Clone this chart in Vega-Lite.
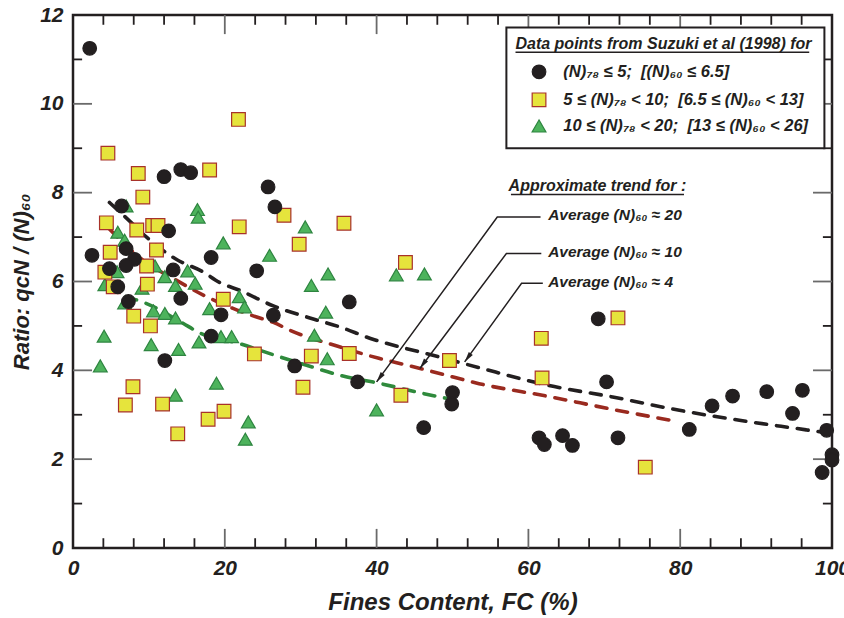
{
  "$schema": "https://vega.github.io/schema/vega-lite/v6.json",
  "width": 759,
  "height": 533,
  "autosize": {"type": "none"},
  "padding": {"left": 73, "top": 15, "right": 12, "bottom": 70},
  "background": "white",
  "config": {
    "font": "Liberation Sans, Arial, sans-serif",
    "view": {"stroke": "#231f20", "strokeWidth": 2.5},
    "axis": {
      "domain": false,
      "grid": false,
      "ticks": false,
      "labelFont": "Liberation Sans, Arial, sans-serif",
      "labelFontWeight": "bold",
      "labelFontStyle": "italic",
      "labelFontSize": 21,
      "labelColor": "#231f20",
      "labelOverlap": false,
      "labelFlush": false,
      "titleFont": "Liberation Sans, Arial, sans-serif",
      "titleFontWeight": "bold",
      "titleFontStyle": "italic",
      "titleFontSize": 24,
      "titleColor": "#231f20"
    }
  },
  "datasets": {
    "points": [
      {"group": "10 ≤ N78 < 20", "fc": 7.0, "ratio": 7.70},
      {"group": "10 ≤ N78 < 20", "fc": 16.4, "ratio": 7.62},
      {"group": "10 ≤ N78 < 20", "fc": 16.5, "ratio": 7.45},
      {"group": "10 ≤ N78 < 20", "fc": 5.9, "ratio": 7.11},
      {"group": "10 ≤ N78 < 20", "fc": 6.8, "ratio": 6.93},
      {"group": "10 ≤ N78 < 20", "fc": 19.8, "ratio": 6.87},
      {"group": "10 ≤ N78 < 20", "fc": 15.1, "ratio": 6.24},
      {"group": "10 ≤ N78 < 20", "fc": 5.8, "ratio": 6.22},
      {"group": "10 ≤ N78 < 20", "fc": 10.8, "ratio": 6.35},
      {"group": "10 ≤ N78 < 20", "fc": 4.2, "ratio": 5.93},
      {"group": "10 ≤ N78 < 20", "fc": 12.1, "ratio": 6.11},
      {"group": "10 ≤ N78 < 20", "fc": 13.5, "ratio": 5.91},
      {"group": "10 ≤ N78 < 20", "fc": 16.1, "ratio": 5.96},
      {"group": "10 ≤ N78 < 20", "fc": 21.9, "ratio": 5.66},
      {"group": "10 ≤ N78 < 20", "fc": 9.1, "ratio": 5.85},
      {"group": "10 ≤ N78 < 20", "fc": 6.8, "ratio": 5.52},
      {"group": "10 ≤ N78 < 20", "fc": 10.6, "ratio": 5.34},
      {"group": "10 ≤ N78 < 20", "fc": 12.1, "ratio": 5.28},
      {"group": "10 ≤ N78 < 20", "fc": 13.5, "ratio": 5.18},
      {"group": "10 ≤ N78 < 20", "fc": 18.0, "ratio": 5.39},
      {"group": "10 ≤ N78 < 20", "fc": 22.6, "ratio": 5.43},
      {"group": "10 ≤ N78 < 20", "fc": 4.1, "ratio": 4.77},
      {"group": "10 ≤ N78 < 20", "fc": 10.3, "ratio": 4.58},
      {"group": "10 ≤ N78 < 20", "fc": 13.9, "ratio": 4.47},
      {"group": "10 ≤ N78 < 20", "fc": 16.6, "ratio": 4.64},
      {"group": "10 ≤ N78 < 20", "fc": 19.5, "ratio": 4.76},
      {"group": "10 ≤ N78 < 20", "fc": 20.9, "ratio": 4.76},
      {"group": "10 ≤ N78 < 20", "fc": 3.6, "ratio": 4.10},
      {"group": "10 ≤ N78 < 20", "fc": 18.9, "ratio": 3.71},
      {"group": "10 ≤ N78 < 20", "fc": 13.5, "ratio": 3.44},
      {"group": "10 ≤ N78 < 20", "fc": 23.1, "ratio": 2.84},
      {"group": "10 ≤ N78 < 20", "fc": 22.7, "ratio": 2.45},
      {"group": "10 ≤ N78 < 20", "fc": 30.6, "ratio": 7.23},
      {"group": "10 ≤ N78 < 20", "fc": 25.9, "ratio": 6.59},
      {"group": "10 ≤ N78 < 20", "fc": 33.6, "ratio": 6.17},
      {"group": "10 ≤ N78 < 20", "fc": 31.4, "ratio": 5.91},
      {"group": "10 ≤ N78 < 20", "fc": 42.6, "ratio": 6.15},
      {"group": "10 ≤ N78 < 20", "fc": 46.3, "ratio": 6.17},
      {"group": "10 ≤ N78 < 20", "fc": 33.3, "ratio": 5.31},
      {"group": "10 ≤ N78 < 20", "fc": 31.8, "ratio": 4.79},
      {"group": "10 ≤ N78 < 20", "fc": 33.5, "ratio": 4.26},
      {"group": "10 ≤ N78 < 20", "fc": 40.0, "ratio": 3.11},
      {"group": "5 ≤ N78 < 10", "fc": 21.8, "ratio": 9.65},
      {"group": "5 ≤ N78 < 10", "fc": 4.6, "ratio": 8.89},
      {"group": "5 ≤ N78 < 10", "fc": 8.6, "ratio": 8.43},
      {"group": "5 ≤ N78 < 10", "fc": 18.0, "ratio": 8.51},
      {"group": "5 ≤ N78 < 10", "fc": 9.2, "ratio": 7.90},
      {"group": "5 ≤ N78 < 10", "fc": 4.4, "ratio": 7.32},
      {"group": "5 ≤ N78 < 10", "fc": 8.4, "ratio": 7.16},
      {"group": "5 ≤ N78 < 10", "fc": 10.5, "ratio": 7.26},
      {"group": "5 ≤ N78 < 10", "fc": 11.2, "ratio": 7.26},
      {"group": "5 ≤ N78 < 10", "fc": 21.9, "ratio": 7.23},
      {"group": "5 ≤ N78 < 10", "fc": 4.9, "ratio": 6.66},
      {"group": "5 ≤ N78 < 10", "fc": 11.0, "ratio": 6.71},
      {"group": "5 ≤ N78 < 10", "fc": 4.2, "ratio": 6.21},
      {"group": "5 ≤ N78 < 10", "fc": 9.7, "ratio": 6.35},
      {"group": "5 ≤ N78 < 10", "fc": 9.8, "ratio": 5.94},
      {"group": "5 ≤ N78 < 10", "fc": 5.3, "ratio": 5.88},
      {"group": "5 ≤ N78 < 10", "fc": 19.8, "ratio": 5.60},
      {"group": "5 ≤ N78 < 10", "fc": 8.0, "ratio": 5.22},
      {"group": "5 ≤ N78 < 10", "fc": 10.2, "ratio": 5.00},
      {"group": "5 ≤ N78 < 10", "fc": 23.9, "ratio": 4.37},
      {"group": "5 ≤ N78 < 10", "fc": 7.9, "ratio": 3.63},
      {"group": "5 ≤ N78 < 10", "fc": 6.9, "ratio": 3.22},
      {"group": "5 ≤ N78 < 10", "fc": 11.8, "ratio": 3.24},
      {"group": "5 ≤ N78 < 10", "fc": 17.8, "ratio": 2.90},
      {"group": "5 ≤ N78 < 10", "fc": 19.9, "ratio": 3.08},
      {"group": "5 ≤ N78 < 10", "fc": 13.8, "ratio": 2.57},
      {"group": "5 ≤ N78 < 10", "fc": 27.8, "ratio": 7.49},
      {"group": "5 ≤ N78 < 10", "fc": 35.7, "ratio": 7.31},
      {"group": "5 ≤ N78 < 10", "fc": 29.8, "ratio": 6.84},
      {"group": "5 ≤ N78 < 10", "fc": 43.8, "ratio": 6.43},
      {"group": "5 ≤ N78 < 10", "fc": 31.4, "ratio": 4.32},
      {"group": "5 ≤ N78 < 10", "fc": 36.4, "ratio": 4.38},
      {"group": "5 ≤ N78 < 10", "fc": 30.3, "ratio": 3.62},
      {"group": "5 ≤ N78 < 10", "fc": 49.6, "ratio": 4.22},
      {"group": "5 ≤ N78 < 10", "fc": 43.2, "ratio": 3.44},
      {"group": "5 ≤ N78 < 10", "fc": 71.8, "ratio": 5.18},
      {"group": "5 ≤ N78 < 10", "fc": 61.7, "ratio": 4.72},
      {"group": "5 ≤ N78 < 10", "fc": 61.8, "ratio": 3.83},
      {"group": "5 ≤ N78 < 10", "fc": 75.4, "ratio": 1.82},
      {"group": "N78 ≤ 5", "fc": 2.2, "ratio": 11.25},
      {"group": "N78 ≤ 5", "fc": 2.5, "ratio": 6.59},
      {"group": "N78 ≤ 5", "fc": 4.8, "ratio": 6.29},
      {"group": "N78 ≤ 5", "fc": 6.4, "ratio": 7.70},
      {"group": "N78 ≤ 5", "fc": 5.9, "ratio": 5.88},
      {"group": "N78 ≤ 5", "fc": 7.0, "ratio": 6.74},
      {"group": "N78 ≤ 5", "fc": 8.1, "ratio": 6.50},
      {"group": "N78 ≤ 5", "fc": 7.0, "ratio": 6.36},
      {"group": "N78 ≤ 5", "fc": 7.3, "ratio": 5.55},
      {"group": "N78 ≤ 5", "fc": 12.0, "ratio": 8.36},
      {"group": "N78 ≤ 5", "fc": 14.2, "ratio": 8.52},
      {"group": "N78 ≤ 5", "fc": 15.5, "ratio": 8.45},
      {"group": "N78 ≤ 5", "fc": 12.6, "ratio": 7.14},
      {"group": "N78 ≤ 5", "fc": 18.2, "ratio": 6.54},
      {"group": "N78 ≤ 5", "fc": 13.2, "ratio": 6.26},
      {"group": "N78 ≤ 5", "fc": 14.2, "ratio": 5.62},
      {"group": "N78 ≤ 5", "fc": 19.5, "ratio": 5.25},
      {"group": "N78 ≤ 5", "fc": 18.2, "ratio": 4.77},
      {"group": "N78 ≤ 5", "fc": 12.1, "ratio": 4.22},
      {"group": "N78 ≤ 5", "fc": 24.2, "ratio": 6.24},
      {"group": "N78 ≤ 5", "fc": 25.7, "ratio": 8.13},
      {"group": "N78 ≤ 5", "fc": 26.6, "ratio": 7.68},
      {"group": "N78 ≤ 5", "fc": 26.4, "ratio": 5.24},
      {"group": "N78 ≤ 5", "fc": 36.4, "ratio": 5.54},
      {"group": "N78 ≤ 5", "fc": 29.2, "ratio": 4.10},
      {"group": "N78 ≤ 5", "fc": 37.5, "ratio": 3.74},
      {"group": "N78 ≤ 5", "fc": 50.0, "ratio": 3.50},
      {"group": "N78 ≤ 5", "fc": 49.9, "ratio": 3.24},
      {"group": "N78 ≤ 5", "fc": 46.2, "ratio": 2.71},
      {"group": "N78 ≤ 5", "fc": 69.2, "ratio": 5.16},
      {"group": "N78 ≤ 5", "fc": 70.3, "ratio": 3.74},
      {"group": "N78 ≤ 5", "fc": 61.4, "ratio": 2.48},
      {"group": "N78 ≤ 5", "fc": 62.1, "ratio": 2.33},
      {"group": "N78 ≤ 5", "fc": 64.5, "ratio": 2.53},
      {"group": "N78 ≤ 5", "fc": 65.8, "ratio": 2.31},
      {"group": "N78 ≤ 5", "fc": 71.8, "ratio": 2.48},
      {"group": "N78 ≤ 5", "fc": 81.2, "ratio": 2.67},
      {"group": "N78 ≤ 5", "fc": 84.2, "ratio": 3.20},
      {"group": "N78 ≤ 5", "fc": 86.9, "ratio": 3.42},
      {"group": "N78 ≤ 5", "fc": 91.4, "ratio": 3.52},
      {"group": "N78 ≤ 5", "fc": 96.1, "ratio": 3.55},
      {"group": "N78 ≤ 5", "fc": 94.8, "ratio": 3.03},
      {"group": "N78 ≤ 5", "fc": 99.3, "ratio": 2.65},
      {"group": "N78 ≤ 5", "fc": 100.0, "ratio": 2.10},
      {"group": "N78 ≤ 5", "fc": 100.0, "ratio": 1.98},
      {"group": "N78 ≤ 5", "fc": 98.7, "ratio": 1.70}
    ],
    "trends": [
      {"series": "N60 ≈ 4", "fc": 4.8, "ratio": 7.78},
      {"series": "N60 ≈ 4", "fc": 6.6, "ratio": 7.50},
      {"series": "N60 ≈ 4", "fc": 10.5, "ratio": 6.88},
      {"series": "N60 ≈ 4", "fc": 13.6, "ratio": 6.50},
      {"series": "N60 ≈ 4", "fc": 17.1, "ratio": 6.22},
      {"series": "N60 ≈ 4", "fc": 19.3, "ratio": 5.98},
      {"series": "N60 ≈ 4", "fc": 22.0, "ratio": 5.80},
      {"series": "N60 ≈ 4", "fc": 26.4, "ratio": 5.45},
      {"series": "N60 ≈ 4", "fc": 31.2, "ratio": 5.18},
      {"series": "N60 ≈ 4", "fc": 35.1, "ratio": 4.98},
      {"series": "N60 ≈ 4", "fc": 39.5, "ratio": 4.70},
      {"series": "N60 ≈ 4", "fc": 43.0, "ratio": 4.53},
      {"series": "N60 ≈ 4", "fc": 46.5, "ratio": 4.38},
      {"series": "N60 ≈ 4", "fc": 50.0, "ratio": 4.22},
      {"series": "N60 ≈ 4", "fc": 53.5, "ratio": 4.06},
      {"series": "N60 ≈ 4", "fc": 62.4, "ratio": 3.67},
      {"series": "N60 ≈ 4", "fc": 71.1, "ratio": 3.40},
      {"series": "N60 ≈ 4", "fc": 79.9, "ratio": 3.10},
      {"series": "N60 ≈ 4", "fc": 88.0, "ratio": 2.87},
      {"series": "N60 ≈ 4", "fc": 96.6, "ratio": 2.66},
      {"series": "N60 ≈ 4", "fc": 99.0, "ratio": 2.60},
      {"series": "N60 ≈ 10", "fc": 4.8, "ratio": 7.18},
      {"series": "N60 ≈ 10", "fc": 9.2, "ratio": 6.48},
      {"series": "N60 ≈ 10", "fc": 13.6, "ratio": 6.03},
      {"series": "N60 ≈ 10", "fc": 17.1, "ratio": 5.70},
      {"series": "N60 ≈ 10", "fc": 21.0, "ratio": 5.40},
      {"series": "N60 ≈ 10", "fc": 24.2, "ratio": 5.20},
      {"series": "N60 ≈ 10", "fc": 26.4, "ratio": 5.08},
      {"series": "N60 ≈ 10", "fc": 28.6, "ratio": 4.90},
      {"series": "N60 ≈ 10", "fc": 35.1, "ratio": 4.53},
      {"series": "N60 ≈ 10", "fc": 40.3, "ratio": 4.27},
      {"series": "N60 ≈ 10", "fc": 43.9, "ratio": 4.12},
      {"series": "N60 ≈ 10", "fc": 48.3, "ratio": 3.93},
      {"series": "N60 ≈ 10", "fc": 53.5, "ratio": 3.70},
      {"series": "N60 ≈ 10", "fc": 62.4, "ratio": 3.42},
      {"series": "N60 ≈ 10", "fc": 71.1, "ratio": 3.12},
      {"series": "N60 ≈ 10", "fc": 78.6, "ratio": 2.88},
      {"series": "N60 ≈ 20", "fc": 7.0, "ratio": 5.66},
      {"series": "N60 ≈ 20", "fc": 9.6, "ratio": 5.51},
      {"series": "N60 ≈ 20", "fc": 14.4, "ratio": 5.07},
      {"series": "N60 ≈ 20", "fc": 16.6, "ratio": 4.85},
      {"series": "N60 ≈ 20", "fc": 22.0, "ratio": 4.60},
      {"series": "N60 ≈ 20", "fc": 26.4, "ratio": 4.35},
      {"series": "N60 ≈ 20", "fc": 31.6, "ratio": 4.07},
      {"series": "N60 ≈ 20", "fc": 35.1, "ratio": 3.89},
      {"series": "N60 ≈ 20", "fc": 40.3, "ratio": 3.71},
      {"series": "N60 ≈ 20", "fc": 46.1, "ratio": 3.48},
      {"series": "N60 ≈ 20", "fc": 49.2, "ratio": 3.37}
    ],
    "arrows": [
      {"arrow": "20", "k": 0, "fc": 61.6, "ratio": 7.45},
      {"arrow": "20", "k": 1, "fc": 55.9, "ratio": 7.45},
      {"arrow": "20", "k": 2, "fc": 40.0, "ratio": 3.74},
      {"arrow": "10", "k": 0, "fc": 61.7, "ratio": 6.63},
      {"arrow": "10", "k": 1, "fc": 57.1, "ratio": 6.63},
      {"arrow": "10", "k": 2, "fc": 45.7, "ratio": 4.04},
      {"arrow": "4", "k": 0, "fc": 61.9, "ratio": 5.96},
      {"arrow": "4", "k": 1, "fc": 59.1, "ratio": 5.96},
      {"arrow": "4", "k": 2, "fc": 51.6, "ratio": 4.19}
    ],
    "trendLabels": [
      {"fc": 62.6, "ratio": 7.49, "text": "Average (N)₆₀ ≈ 20"},
      {"fc": 62.6, "ratio": 6.67, "text": "Average (N)₆₀ ≈ 10"},
      {"fc": 62.6, "ratio": 5.99, "text": "Average (N)₆₀ ≈ 4"}
    ],
    "headings": [
      {"fc": 69.1, "ratio": 8.15, "text": "Approximate trend for :"},
      {"fc": 77.8, "ratio": 11.35, "text": "Data points from Suzuki et al (1998) for"}
    ],
    "underlines": [
      {"fc": 57.7, "fc2": 80.5, "ratio": 7.96},
      {"fc": 58.3, "fc2": 97.0, "ratio": 11.16}
    ],
    "legendBox": [
      {"fc": 57.1, "fc2": 99.0, "ratio": 9.0, "ratio2": 11.72}
    ],
    "legendRows": [
      {"group": "N78 ≤ 5", "fc": 61.4, "labelFc": 64.6, "ratio": 10.72, "text": "(N)₇₈ ≤ 5;  \u00a0[(N)₆₀ ≤ 6.5]"},
      {"group": "5 ≤ N78 < 10", "fc": 61.4, "labelFc": 64.6, "ratio": 10.09, "text": "5 ≤ (N)₇₈ < 10;  \u00a0[6.5 ≤ (N)₆₀ < 13]"},
      {"group": "10 ≤ N78 < 20", "fc": 61.4, "labelFc": 64.6, "ratio": 9.5, "text": "10 ≤ (N)₇₈ < 20;  \u00a0[13 ≤ (N)₆₀ < 26]"}
    ],
    "ticksY": [
      {"tick": 1, "kind": "minor", "from": 0, "to": 1.2},
      {"tick": 2, "kind": "major", "from": 0, "to": 2.5},
      {"tick": 3, "kind": "minor", "from": 0, "to": 1.2},
      {"tick": 4, "kind": "major", "from": 0, "to": 2.5},
      {"tick": 5, "kind": "minor", "from": 0, "to": 1.2},
      {"tick": 6, "kind": "major", "from": 0, "to": 2.5},
      {"tick": 7, "kind": "minor", "from": 0, "to": 1.2},
      {"tick": 8, "kind": "major", "from": 0, "to": 2.5},
      {"tick": 9, "kind": "minor", "from": 0, "to": 1.2},
      {"tick": 10, "kind": "major", "from": 0, "to": 2.5},
      {"tick": 11, "kind": "minor", "from": 0, "to": 1.2},
      {"tick": 1, "kind": "minor", "from": 100, "to": 98.8},
      {"tick": 2, "kind": "major", "from": 100, "to": 97.5},
      {"tick": 3, "kind": "minor", "from": 100, "to": 98.8},
      {"tick": 4, "kind": "major", "from": 100, "to": 97.5},
      {"tick": 5, "kind": "minor", "from": 100, "to": 98.8},
      {"tick": 6, "kind": "major", "from": 100, "to": 97.5},
      {"tick": 7, "kind": "minor", "from": 100, "to": 98.8},
      {"tick": 8, "kind": "major", "from": 100, "to": 97.5},
      {"tick": 9, "kind": "minor", "from": 100, "to": 98.8},
      {"tick": 10, "kind": "major", "from": 100, "to": 97.5},
      {"tick": 11, "kind": "minor", "from": 100, "to": 98.8}
    ],
    "ticksX": [
      {"tick": 4, "kind": "minor", "from": 0, "to": 0.22}, {"tick": 8, "kind": "minor", "from": 0, "to": 0.22},
      {"tick": 12, "kind": "minor", "from": 0, "to": 0.22}, {"tick": 16, "kind": "minor", "from": 0, "to": 0.22},
      {"tick": 20, "kind": "major", "from": 0, "to": 0.43}, {"tick": 24, "kind": "minor", "from": 0, "to": 0.22},
      {"tick": 28, "kind": "minor", "from": 0, "to": 0.22}, {"tick": 32, "kind": "minor", "from": 0, "to": 0.22},
      {"tick": 36, "kind": "minor", "from": 0, "to": 0.22}, {"tick": 40, "kind": "major", "from": 0, "to": 0.43},
      {"tick": 44, "kind": "minor", "from": 0, "to": 0.22}, {"tick": 48, "kind": "minor", "from": 0, "to": 0.22},
      {"tick": 52, "kind": "minor", "from": 0, "to": 0.22}, {"tick": 56, "kind": "minor", "from": 0, "to": 0.22},
      {"tick": 60, "kind": "major", "from": 0, "to": 0.43}, {"tick": 64, "kind": "minor", "from": 0, "to": 0.22},
      {"tick": 68, "kind": "minor", "from": 0, "to": 0.22}, {"tick": 72, "kind": "minor", "from": 0, "to": 0.22},
      {"tick": 76, "kind": "minor", "from": 0, "to": 0.22}, {"tick": 80, "kind": "major", "from": 0, "to": 0.43},
      {"tick": 84, "kind": "minor", "from": 0, "to": 0.22}, {"tick": 88, "kind": "minor", "from": 0, "to": 0.22},
      {"tick": 92, "kind": "minor", "from": 0, "to": 0.22}, {"tick": 96, "kind": "minor", "from": 0, "to": 0.22},
      {"tick": 4, "kind": "minor", "from": 12, "to": 11.78}, {"tick": 8, "kind": "minor", "from": 12, "to": 11.78},
      {"tick": 12, "kind": "minor", "from": 12, "to": 11.78}, {"tick": 16, "kind": "minor", "from": 12, "to": 11.78},
      {"tick": 20, "kind": "major", "from": 12, "to": 11.57}, {"tick": 24, "kind": "minor", "from": 12, "to": 11.78},
      {"tick": 28, "kind": "minor", "from": 12, "to": 11.78}, {"tick": 32, "kind": "minor", "from": 12, "to": 11.78},
      {"tick": 36, "kind": "minor", "from": 12, "to": 11.78}, {"tick": 40, "kind": "major", "from": 12, "to": 11.57},
      {"tick": 44, "kind": "minor", "from": 12, "to": 11.78}, {"tick": 48, "kind": "minor", "from": 12, "to": 11.78},
      {"tick": 52, "kind": "minor", "from": 12, "to": 11.78}, {"tick": 56, "kind": "minor", "from": 12, "to": 11.78},
      {"tick": 60, "kind": "major", "from": 12, "to": 11.57}, {"tick": 64, "kind": "minor", "from": 12, "to": 11.78},
      {"tick": 68, "kind": "minor", "from": 12, "to": 11.78}, {"tick": 72, "kind": "minor", "from": 12, "to": 11.78},
      {"tick": 76, "kind": "minor", "from": 12, "to": 11.78}, {"tick": 80, "kind": "major", "from": 12, "to": 11.57},
      {"tick": 84, "kind": "minor", "from": 12, "to": 11.78}, {"tick": 88, "kind": "minor", "from": 12, "to": 11.78},
      {"tick": 92, "kind": "minor", "from": 12, "to": 11.78}, {"tick": 96, "kind": "minor", "from": 12, "to": 11.78}
    ]
  },
  "layer": [
    {
      "data": {"name": "ticksY"},
      "transform": [{"filter": "datum.kind == 'major'"}],
      "mark": {"type": "rule", "strokeWidth": 1.8, "color": "#6a6a6a"},
      "encoding": {
        "x": {"field": "from", "type": "quantitative", "scale": {"domain": [0, 100], "nice": false, "zero": false},
          "axis": {"orient": "bottom", "values": [0, 20, 40, 60, 80, 100],
            "labelPadding": 9, "title": "Fines Content, FC (%)", "titlePadding": 12}},
        "x2": {"field": "to"},
        "y": {"field": "tick", "type": "quantitative", "scale": {"domain": [0, 12], "nice": false, "zero": false},
          "axis": {"orient": "left", "values": [0, 2, 4, 6, 8, 10, 12],
            "labelPadding": 10, "title": "Ratio: qcN / (N)₆₀", "titleFontSize": 22, "titlePadding": 6}}
      }
    },
    {
      "data": {"name": "ticksY"},
      "transform": [{"filter": "datum.kind == 'minor'"}],
      "mark": {"type": "rule", "strokeWidth": 1.8, "color": "#231f20"},
      "encoding": {
        "x": {"field": "from", "type": "quantitative"},
        "x2": {"field": "to"},
        "y": {"field": "tick", "type": "quantitative"}
      }
    },
    {
      "data": {"name": "ticksX"},
      "transform": [{"filter": "datum.kind == 'major'"}],
      "mark": {"type": "rule", "strokeWidth": 1.8, "color": "#6a6a6a"},
      "encoding": {
        "x": {"field": "tick", "type": "quantitative"},
        "y": {"field": "from", "type": "quantitative"},
        "y2": {"field": "to"}
      }
    },
    {
      "data": {"name": "ticksX"},
      "transform": [{"filter": "datum.kind == 'minor'"}],
      "mark": {"type": "rule", "strokeWidth": 1.8, "color": "#231f20"},
      "encoding": {
        "x": {"field": "tick", "type": "quantitative"},
        "y": {"field": "from", "type": "quantitative"},
        "y2": {"field": "to"}
      }
    },
    {
      "data": {"name": "trends"},
      "transform": [{"filter": "datum.series == 'N60 ≈ 20'"}],
      "mark": {"type": "line", "stroke": "#2f8a3c", "strokeWidth": 3.6, "strokeDash": [11, 10], "strokeCap": "round", "interpolate": "monotone"},
      "encoding": {
        "x": {"field": "fc", "type": "quantitative"},
        "y": {"field": "ratio", "type": "quantitative"}
      }
    },
    {
      "data": {"name": "trends"},
      "transform": [{"filter": "datum.series == 'N60 ≈ 10'"}],
      "mark": {"type": "line", "stroke": "#9a2a1f", "strokeWidth": 3.6, "strokeDash": [11, 10], "strokeCap": "round", "interpolate": "monotone"},
      "encoding": {
        "x": {"field": "fc", "type": "quantitative"},
        "y": {"field": "ratio", "type": "quantitative"}
      }
    },
    {
      "data": {"name": "trends"},
      "transform": [{"filter": "datum.series == 'N60 ≈ 4'"}],
      "mark": {"type": "line", "stroke": "#231f20", "strokeWidth": 3.6, "strokeDash": [11, 10], "strokeCap": "round", "interpolate": "monotone"},
      "encoding": {
        "x": {"field": "fc", "type": "quantitative"},
        "y": {"field": "ratio", "type": "quantitative"}
      }
    },
    {
      "data": {"name": "points"},
      "mark": {"type": "point", "filled": true, "opacity": 1, "strokeWidth": 1.2},
      "encoding": {
        "x": {"field": "fc", "type": "quantitative"},
        "y": {"field": "ratio", "type": "quantitative"},
        "shape": {"field": "group", "type": "nominal", "legend": null,
          "scale": {"domain": ["N78 ≤ 5", "5 ≤ N78 < 10", "10 ≤ N78 < 20"], "range": ["circle", "square", "triangle-up"]}},
        "size": {"field": "group", "type": "nominal", "legend": null,
          "scale": {"domain": ["N78 ≤ 5", "5 ≤ N78 < 10", "10 ≤ N78 < 20"], "range": [185, 190, 270]}},
        "color": {"field": "group", "type": "nominal", "legend": null,
          "scale": {"domain": ["N78 ≤ 5", "5 ≤ N78 < 10", "10 ≤ N78 < 20"], "range": ["#231f20", "#e6e43c", "#4db35c"]}},
        "stroke": {"field": "group", "type": "nominal", "legend": null,
          "scale": {"domain": ["N78 ≤ 5", "5 ≤ N78 < 10", "10 ≤ N78 < 20"], "range": ["#231f20", "#a8322a", "#2e8540"]}}
      }
    },
    {
      "data": {"name": "arrows"},
      "mark": {"type": "line", "stroke": "#231f20", "strokeWidth": 1.5},
      "encoding": {
        "x": {"field": "fc", "type": "quantitative"},
        "y": {"field": "ratio", "type": "quantitative"},
        "detail": {"field": "arrow", "type": "nominal"},
        "order": {"field": "k", "type": "quantitative"}
      }
    },
    {
      "data": {"name": "arrows"},
      "transform": [{"filter": "datum.k == 2"}],
      "mark": {"type": "point", "shape": "M0,0L-0.6,-2.5L0.6,-2.5Z", "filled": true, "fill": "#231f20", "stroke": null, "opacity": 1, "size": 70, "angle": 36},
      "encoding": {
        "x": {"field": "fc", "type": "quantitative"},
        "y": {"field": "ratio", "type": "quantitative"}
      }
    },
    {
      "data": {"name": "trendLabels"},
      "mark": {"type": "text", "align": "left", "baseline": "middle", "fontSize": 15.5, "fontWeight": "bold", "fontStyle": "italic", "color": "#231f20"},
      "encoding": {
        "x": {"field": "fc", "type": "quantitative"},
        "y": {"field": "ratio", "type": "quantitative"},
        "text": {"field": "text"}
      }
    },
    {
      "data": {"name": "legendBox"},
      "mark": {"type": "rect", "fill": "white", "stroke": "#231f20", "strokeWidth": 2},
      "encoding": {
        "x": {"field": "fc", "type": "quantitative"},
        "x2": {"field": "fc2"},
        "y": {"field": "ratio", "type": "quantitative"},
        "y2": {"field": "ratio2"}
      }
    },
    {
      "data": {"name": "headings"},
      "mark": {"type": "text", "align": "center", "baseline": "middle", "fontSize": 16, "fontWeight": "bold", "fontStyle": "italic", "color": "#231f20"},
      "encoding": {
        "x": {"field": "fc", "type": "quantitative"},
        "y": {"field": "ratio", "type": "quantitative"},
        "text": {"field": "text"}
      }
    },
    {
      "data": {"name": "underlines"},
      "mark": {"type": "rule", "stroke": "#231f20", "strokeWidth": 1.6},
      "encoding": {
        "x": {"field": "fc", "type": "quantitative"},
        "x2": {"field": "fc2"},
        "y": {"field": "ratio", "type": "quantitative"}
      }
    },
    {
      "data": {"name": "legendRows"},
      "mark": {"type": "point", "filled": true, "opacity": 1, "strokeWidth": 1.2},
      "encoding": {
        "x": {"field": "fc", "type": "quantitative"},
        "y": {"field": "ratio", "type": "quantitative"},
        "shape": {"field": "group", "type": "nominal", "legend": null},
        "size": {"field": "group", "type": "nominal", "legend": null},
        "color": {"field": "group", "type": "nominal", "legend": null},
        "stroke": {"field": "group", "type": "nominal", "legend": null}
      }
    },
    {
      "data": {"name": "legendRows"},
      "mark": {"type": "text", "align": "left", "baseline": "middle", "fontSize": 16.5, "fontWeight": "bold", "fontStyle": "italic", "color": "#231f20"},
      "encoding": {
        "x": {"field": "labelFc", "type": "quantitative"},
        "y": {"field": "ratio", "type": "quantitative"},
        "text": {"field": "text"}
      }
    }
  ]
}
